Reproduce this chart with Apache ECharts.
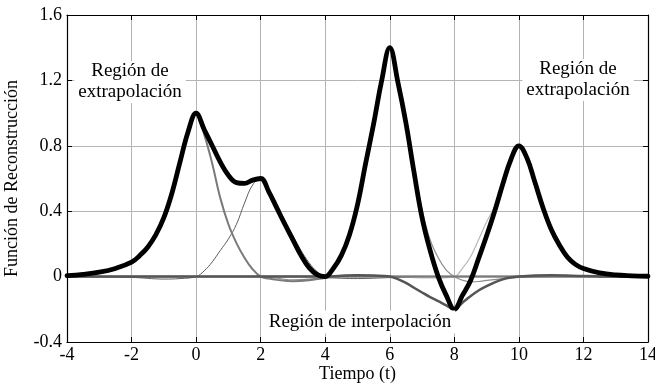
<!DOCTYPE html>
<html>
<head>
<meta charset="utf-8">
<script src="https://cdn.jsdelivr.net/npm/echarts@6/dist/echarts.min.js"></script>
<style>html,body{margin:0;padding:0;background:#fff;}#c{width:655px;height:385px;}</style>
</head>
<body>
<div id="c"></div>
<script>
// Axis ticks
const xTicks = [-4, -2, 0, 2, 4, 6, 8, 10, 12, 14];
const yTicks = [-0.4, 0, 0.4, 0.8, 1.2, 1.6];

// Reconstruction function (thick black)
const reconstruccion = [[-4,0.006],[-3.5,0.014],[-3,0.027],[-2.5,0.05],[-2,0.088],[-1.75,0.128],[-1.5,0.18],[-1.25,0.255],[-1,0.36],[-0.75,0.51],[-0.5,0.7],[-0.25,0.885],[0,1.0],[0.25,0.9],[0.5,0.8],[0.75,0.70],[1,0.62],[1.25,0.575],[1.5,0.57],[1.75,0.59],[2,0.6],[2.25,0.52],[2.5,0.42],[2.75,0.32],[3,0.225],[3.25,0.13],[3.5,0.055],[3.75,0.012],[4,0.0],[4.25,0.05],[4.5,0.13],[4.75,0.255],[5,0.44],[5.25,0.69],[5.5,0.935],[5.75,1.2],[6,1.4],[6.25,1.19],[6.5,0.94],[6.75,0.64],[7,0.36],[7.25,0.16],[7.5,0.0],[7.75,-0.115],[8,-0.2],[8.25,-0.115],[8.5,-0.025],[8.75,0.11],[9,0.25],[9.25,0.4],[9.5,0.565],[9.75,0.715],[10,0.8],[10.25,0.725],[10.5,0.575],[10.75,0.42],[11,0.29],[11.25,0.195],[11.5,0.12],[11.75,0.075],[12,0.05],[12.5,0.023],[13,0.01],[13.5,0.005],[14,0.002]];

// Individual weighted kernels
const kernel0 = [[-4,0.006],[-3.5,0.014],[-3,0.027],[-2.5,0.05],[-2,0.088],[-1.75,0.128],[-1.5,0.18],[-1.25,0.255],[-1,0.36],[-0.75,0.51],[-0.5,0.7],[-0.25,0.885],[0,1.0],[0.25,0.87],[0.5,0.69],[0.75,0.48],[1,0.32],[1.25,0.205],[1.5,0.115],[1.75,0.045],[2,0],[2.25,-0.012],[2.5,-0.02],[3,-0.028],[3.5,-0.022],[4,-0.008],[4.5,0],[14,0]];
const kernel2 = [[-4,0],[-2,-0.005],[-1,-0.015],[-0.5,-0.012],[0,0],[0.25,0.035],[0.5,0.09],[0.75,0.16],[1,0.23],[1.25,0.32],[1.5,0.45],[1.75,0.56],[2,0.6],[2.25,0.535],[2.5,0.44],[2.75,0.345],[3,0.25],[3.25,0.16],[3.5,0.085],[3.75,0.03],[4,0],[4.5,-0.01],[5,-0.012],[6,-0.006],[7,0],[14,0]];
const kernel4 = [[-4,0],[14,0]];
const kernel6 = [[-4,0],[2,0],[2.5,-0.01],[3,-0.02],[3.5,-0.015],[4,0],[4.25,0.055],[4.5,0.135],[4.75,0.26],[5,0.445],[5.25,0.695],[5.5,0.94],[5.75,1.2],[6,1.4],[6.25,1.2],[6.5,0.955],[6.75,0.66],[7,0.41],[7.25,0.225],[7.5,0.115],[7.75,0.04],[8,0],[8.25,-0.022],[8.5,-0.032],[8.75,-0.03],[9,-0.023],[9.5,-0.012],[10,-0.005],[11,0],[14,0]];
const kernel8 = [[-4,0],[4,0],[4.5,0.005],[5,0.008],[5.5,0.006],[6,0],[6.25,-0.015],[6.5,-0.038],[6.75,-0.068],[7,-0.097],[7.25,-0.125],[7.5,-0.15],[7.75,-0.176],[8,-0.2],[8.25,-0.16],[8.5,-0.12],[8.75,-0.085],[9,-0.058],[9.25,-0.035],[9.5,-0.017],[9.75,-0.006],[10,0],[10.5,0.006],[11,0.008],[12,0.004],[13,0],[14,0]];
const kernel10 = [[-4,0],[6,0],[7,-0.008],[7.5,-0.008],[8,0],[8.25,0.05],[8.5,0.12],[8.75,0.225],[9,0.335],[9.25,0.43],[9.5,0.57],[9.75,0.715],[10,0.8],[10.25,0.725],[10.5,0.575],[10.75,0.42],[11,0.29],[11.25,0.195],[11.5,0.12],[11.75,0.075],[12,0.05],[12.5,0.023],[13,0.01],[13.5,0.005],[14,0.002]];

// Texts
const yName = 'Función de Reconstrucción';
const xName = 'Tiempo (t)';
const txtExtrap = 'Región de\nextrapolación';
const txtInterp = 'Región de interpolación';

const FONT = '"Liberation Serif", "Times New Roman", serif';
const chart = echarts.init(document.getElementById('c'), null, {renderer: 'canvas'});

function line(data, color, width, z) {
  return {type: 'line', data: data, showSymbol: false, symbol: 'none',
    smooth: 0.4,
    lineStyle: {color: color, width: width, join: 'round', cap: 'round'}, z: z, silent: true, animation: false};
}

const axCommon = {min: xTicks[0], max: xTicks[xTicks.length - 1], interval: 2};
const ayCommon = {min: yTicks[0], max: yTicks[yTicks.length - 1], interval: 0.4};

chart.setOption({
  animation: false,
  backgroundColor: '#fff',
  grid: {left: 67, right: 7, top: 15, bottom: 43, containLabel: false, outerBoundsMode: 'none'},
  xAxis: [
    Object.assign({type: 'value', position: 'bottom',
      name: xName, nameLocation: 'middle', nameGap: 23, nameMoveOverlap: false,
      nameTextStyle: {fontFamily: FONT, fontSize: 18, color: '#000'},
      axisLine: {show: true, onZero: false, lineStyle: {color: '#000', width: 1.2}},
      axisTick: {show: true, inside: true, length: 5, lineStyle: {color: '#000'}},
      axisLabel: {fontFamily: FONT, fontSize: 18, color: '#000', margin: 4,
        formatter: v => String(Math.round(v))},
      splitLine: {show: true, lineStyle: {color: '#b4b4b4', width: 1}}
    }, axCommon),
    Object.assign({type: 'value', position: 'top',
      axisLine: {show: true, onZero: false, lineStyle: {color: '#000', width: 1.2}},
      axisTick: {show: true, inside: true, length: 5, lineStyle: {color: '#000'}},
      axisLabel: {show: false}, splitLine: {show: false}
    }, axCommon)
  ],
  yAxis: [
    Object.assign({type: 'value', position: 'left',
      name: yName, nameLocation: 'middle', nameGap: 46, nameMoveOverlap: false,
      nameTextStyle: {fontFamily: FONT, fontSize: 18, color: '#000'},
      axisLine: {show: true, onZero: false, lineStyle: {color: '#000', width: 1.2}},
      axisTick: {show: true, inside: true, length: 5, lineStyle: {color: '#000'}},
      axisLabel: {fontFamily: FONT, fontSize: 18, color: '#000', margin: 5,
        formatter: v => String(+v.toFixed(1))},
      splitLine: {show: true, lineStyle: {color: '#b4b4b4', width: 1}}
    }, ayCommon),
    Object.assign({type: 'value', position: 'right',
      axisLine: {show: true, onZero: false, lineStyle: {color: '#000', width: 1.2}},
      axisTick: {show: true, inside: true, length: 5, lineStyle: {color: '#000'}},
      axisLabel: {show: false}, splitLine: {show: false}
    }, ayCommon)
  ],
  series: [
    line(kernel4, '#c6c6c6', 2.5, 2),
    line(kernel10, '#b8b8b8', 1.2, 3),
    line(kernel6, '#8c8c8c', 1.2, 4),
    line(kernel2, '#5e5e5e', 1, 5),
    line(kernel0, '#7a7a7a', 2, 6),
    line(kernel8, '#555555', 2.5, 7),
    line(reconstruccion, '#000000', 4.8, 8)
  ],
  graphic: [
    {type: 'text', x: 130, y: 82, z: 20,
      style: {text: txtExtrap, fontFamily: FONT, fontSize: 19, lineHeight: 21, fill: '#000',
        align: 'center', verticalAlign: 'middle', backgroundColor: '#fff', padding: [0, 4]}},
    {type: 'text', x: 578, y: 80, z: 20,
      style: {text: txtExtrap, fontFamily: FONT, fontSize: 19, lineHeight: 21, fill: '#000',
        align: 'center', verticalAlign: 'middle', backgroundColor: '#fff', padding: [0, 4]}},
    {type: 'text', x: 360, y: 322, z: 20,
      style: {text: txtInterp, fontFamily: FONT, fontSize: 19, lineHeight: 21, fill: '#000',
        align: 'center', verticalAlign: 'middle', backgroundColor: '#fff', padding: [1, 4]}}
  ]
});
</script>
</body>
</html>
